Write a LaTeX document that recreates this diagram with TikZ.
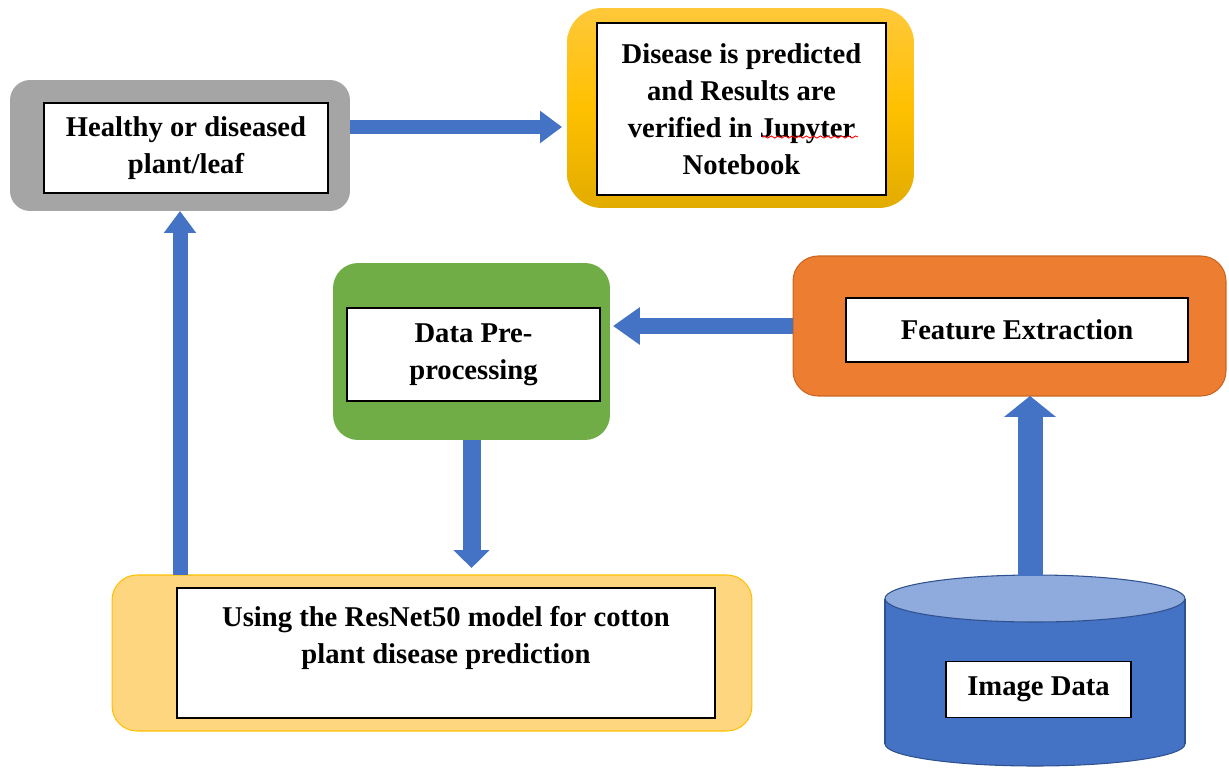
\documentclass[tikz,border=0pt]{standalone}
\usepackage{fontspec}
\setmainfont{Liberation Serif}
\usetikzlibrary{arrows.meta,calc,decorations.pathmorphing}
\definecolor{leafgray}{HTML}{A5A5A5}
\definecolor{goldtop}{HTML}{FFC83A}
\definecolor{goldmid}{HTML}{FFC000}
\definecolor{goldbot}{HTML}{E2AC00}
\definecolor{paleyellow}{HTML}{FFD680}
\definecolor{paleedge}{HTML}{FFC000}
\definecolor{prepgreen}{HTML}{70AD47}
\definecolor{featorange}{HTML}{ED7D31}
\definecolor{featedge}{HTML}{C9651E}
\definecolor{flowblue}{HTML}{4472C4}
\definecolor{flowedge}{HTML}{2F528F}
\definecolor{dbtop}{HTML}{8FAADC}
\begin{document}
\begin{tikzpicture}[x=0.02cm,y=-0.02cm,
    outer/.style={rounded corners=#1, inner sep=0pt, outer sep=0pt},
    inner/.style={draw=black, line width=0.7pt, fill=white, align=center,
        inner sep=0pt, outer sep=0pt, font=\fontsize{16.3}{21}\selectfont\bfseries},
    flow/.style={draw=flowblue, line width=#1}]
    \useasboundingbox (0,0) rectangle (1229,767);
    % outer boxes
    \node[outer=0.4cm, fill=leafgray, minimum width=6.8cm, minimum height=2.62cm] (leaf) at (180,145.5) {};
    \node[outer=0.7cm, top color=goldtop, bottom color=goldbot, middle color=goldmid,
        minimum width=6.94cm, minimum height=4cm] (verify) at (740.5,108) {};
    \node[outer=0.5cm, fill=prepgreen, minimum width=5.54cm, minimum height=3.54cm] (prep) at (471.5,351.5) {};
    \node[outer=0.5cm, fill=featorange, draw=featedge, line width=0.6pt,
        minimum width=8.66cm, minimum height=2.8cm] (feat) at (1009.5,326) {};
    \node[outer=0.5cm, fill=paleyellow, draw=paleedge, line width=0.6pt,
        minimum width=12.8cm, minimum height=3.12cm] (resnet) at (432,653) {};
    % image data store
    \filldraw[draw=flowedge, fill=flowblue, line width=0.6pt] (1035,744) ellipse [x radius=3cm, y radius=0.44cm];
    \fill[flowblue] (885,598.5) rectangle (1185,744);
    \draw[flowedge, line width=0.6pt] (885,598.5) -- (885,744) (1185,598.5) -- (1185,744);
    \filldraw[draw=flowedge, fill=dbtop, line width=0.6pt] (1035,598.5) ellipse [x radius=3cm, y radius=0.47cm];
    \coordinate (db) at (1030,576);
    % inner boxes
    \node[inner, minimum width=5.68cm, minimum height=1.8cm] (leaftxt) at (186,148)
        {Healthy or diseased\\plant/leaf};
    \node[inner, minimum width=5.78cm, minimum height=3.44cm] (verifytxt) at (741.5,109)
        {Disease is predicted\\and Results are\\verified in Jupyter\\Notebook};
    \node[inner, minimum width=5.06cm, minimum height=1.86cm] (preptxt) at (473.5,354.5)
        {Data Pre-\\processing};
    \node[inner, minimum width=6.84cm, minimum height=1.28cm] (feattxt) at (1017,330)
        {Feature Extraction};
    \node[inner, minimum width=10.76cm, minimum height=2.6cm] (resnettxt) at (446,653)
        {Using the ResNet50 model for cotton\\plant disease prediction\\ \mbox{}};
    \node[inner, minimum width=3.7cm, minimum height=1.12cm] (dbtxt) at (1038.5,689.5)
        {Image Data};
    \draw[red, line width=0.5pt, decorate, decoration={snake, amplitude=0.6pt, segment length=4pt}]
        (762,137) -- (858,137);
    % arrows
    \draw[flow=0.28cm, -{Triangle[length=0.44cm, width=0.62cm]}]
        ($(leaf.east)+(0,-18.5)$) -- ($(verify.west)+(-5,19)$);
    \draw[flow=0.32cm, -{Triangle[length=0.54cm, width=0.72cm]}]
        (feat.west) -- ($(feat.west -| prep.east)+(3,0)$);
    \draw[flow=0.36cm, -{Triangle[length=0.36cm, width=0.7cm]}]
        (prep.south) -- ($(prep.south |- resnet.north)+(0,-7)$);
    \draw[flow=0.3cm, -{Triangle[length=0.44cm, width=0.62cm]}]
        (leaf.south |- resnet.north) -- (leaf.south);
    \draw[flow=0.5cm, -{Triangle[length=0.42cm, width=1.02cm]}]
        (db) -- (db |- feat.south);
\end{tikzpicture}
\end{document}
